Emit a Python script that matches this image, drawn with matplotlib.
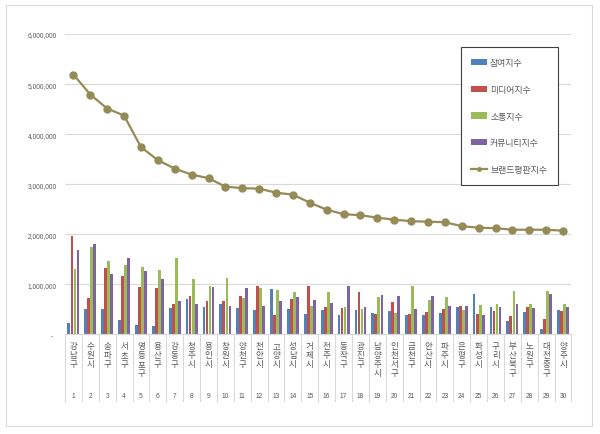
import matplotlib
matplotlib.use('Agg')
import matplotlib.pyplot as plt
import numpy as np
from matplotlib.patches import Rectangle
import matplotlib.transforms as mtrans

plt.rcParams['font.family'] = ['Noto Sans CJK KR', 'DejaVu Sans']

regions = ['강남구', '수원시', '송파구', '서초구', '영등포구', '용산구', '강동구', '청주시', '용인시', '창원시',
           '양천구', '천안시', '고양시', '성남시', '거제시', '전주시', '동작구', '광진구', '남양주시', '인천 서구',
           '금천구', '안산시', '파주시', '은평구', '화성시', '구리시', '부산 북구', '노원구', '대전 중구', '양주시']
ranks = list(range(1, 31))
series_names = ['참여지수', '미디어지수', '소통지수', '커뮤니티지수', '브랜드평판지수']
participation = [233000, 500000, 500000, 280000, 190000, 170000, 520000, 700000, 540000, 600000,
                 520000, 480000, 910000, 500000, 410000, 490000, 380000, 480000, 420000, 460000,
                 380000, 390000, 430000, 540000, 800000, 540000, 270000, 440000, 110000, 480000]
media = [1970000, 730000, 1330000, 1170000, 950000, 920000, 600000, 770000, 660000, 660000,
         760000, 970000, 390000, 700000, 970000, 540000, 530000, 850000, 410000, 640000,
         410000, 440000, 500000, 570000, 400000, 460000, 360000, 540000, 300000, 460000]
communication = [1310000, 1740000, 1460000, 1390000, 1350000, 1280000, 1530000, 1110000, 970000, 1130000,
                 720000, 920000, 880000, 850000, 570000, 850000, 540000, 510000, 740000, 430000,
                 970000, 680000, 750000, 480000, 580000, 600000, 870000, 600000, 870000, 610000]
community = [1680000, 1810000, 1200000, 1520000, 1270000, 1110000, 660000, 610000, 940000, 560000,
             930000, 560000, 660000, 750000, 680000, 630000, 960000, 550000, 780000, 760000,
             500000, 770000, 560000, 570000, 380000, 550000, 600000, 530000, 810000, 540000]
brand = [5190000, 4790000, 4510000, 4370000, 3740000, 3480000, 3310000, 3190000, 3120000, 2950000,
         2920000, 2910000, 2830000, 2790000, 2630000, 2490000, 2400000, 2380000, 2330000, 2290000,
         2260000, 2250000, 2240000, 2160000, 2130000, 2120000, 2090000, 2090000, 2090000, 2070000]
yticks = [0, 1000000, 2000000, 3000000, 4000000, 5000000, 6000000]

bar_colors = ['#4F81BD', '#C0504D', '#9BBB59', '#8064A2']
line_color = '#958B57'
text_color = '#595959'
grid_color = '#D9D9D9'

W, H = 600, 435
fig = plt.figure(figsize=(6, 4.35), dpi=100)
fig.patches.append(Rectangle((6 / W, 1 - 427.3 / H), (592.3 - 6) / W, (427.3 - 5.7) / H,
                             transform=fig.transFigure, fill=False, edgecolor=grid_color, lw=0.8))

ax = fig.add_axes([65 / W, 1 - 335.3 / H, (571.5 - 65) / W, (335.3 - 35) / H])
x = np.arange(len(regions))
width = 0.165
step = 0.18
handles = []
for k, vals in enumerate([participation, media, communication, community]):
    h = ax.bar(x + (k - 1.5) * step, vals, width=width, color=bar_colors[k], label=series_names[k], zorder=2)
    handles.append(h)
ln, = ax.plot(x, brand, color=line_color, lw=1.6, marker='o', markersize=5, label=series_names[4], zorder=3)
handles.append(ln)

ax.set_xlim(-0.5, len(regions) - 0.5)
ax.set_ylim(0, 6000000)
ax.set_yticks(yticks)
ax.set_yticklabels(['-  ' if v == 0 else f'{v:,}' for v in yticks],
                   fontsize=4.8, color=text_color, family=['Liberation Sans', 'DejaVu Sans'])
ax.tick_params(axis='y', length=0, pad=6)
ax.set_xticks([])
ax.grid(axis='y', color=grid_color, lw=0.8, zorder=0)
ax.set_axisbelow(True)
for s in ['top', 'right', 'left']:
    ax.spines[s].set_visible(False)
ax.spines['bottom'].set_color(grid_color)
ax.spines['bottom'].set_linewidth(0.8)

blend = mtrans.blended_transform_factory(ax.transData, ax.transAxes)
ph = 335.3 - 35
for k in range(len(regions) + 1):
    ax.plot([k - 0.5, k - 0.5], [0, -(401.7 - 335.3) / ph], transform=blend,
            color=grid_color, lw=0.8, clip_on=False)
for i, name in enumerate(regions):
    ax.text(i, -(342 - 335.3) / ph, '\n'.join(name.replace(' ', '')), transform=blend,
            ha='center', va='top', fontsize=6.1, color=text_color, linespacing=1.02)
    ax.text(i, -(396.7 - 335.3) / ph, str(ranks[i]), transform=blend, ha='center', va='center',
            fontsize=4.8, color=text_color, family=['Liberation Sans', 'DejaVu Sans'])

leg = ax.legend(handles=handles, labels=series_names, loc='upper left',
                bbox_to_anchor=(460.7 / W, 1 - 48.3 / H), bbox_transform=fig.transFigure,
                fontsize=6.4, labelspacing=2.0, borderpad=1.2, handlelength=1.8, handletextpad=0.3,
                borderaxespad=0, fancybox=False, framealpha=1, markerscale=0.5)
leg.get_frame().set_edgecolor('#404040')
leg.get_frame().set_linewidth(0.8)
for t in leg.get_texts():
    t.set_color(text_color)

fig.savefig('out.png', dpi=100)
